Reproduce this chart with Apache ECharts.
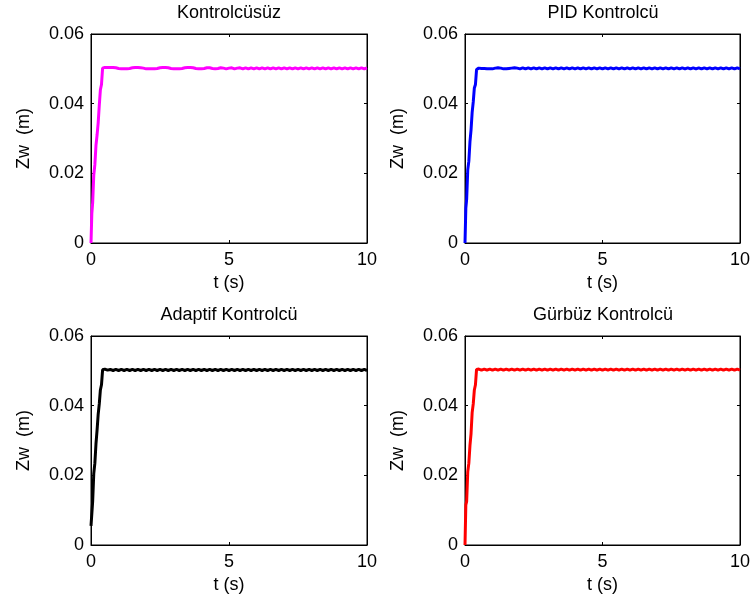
<!DOCTYPE html>
<html>
<head>
<meta charset="utf-8">
<script src="https://cdn.jsdelivr.net/npm/echarts@6/dist/echarts.min.js"></script>
<style>
  html, body { margin: 0; padding: 0; background: #fff; }
  #chart { width: 753px; height: 606px; }
</style>
</head>
<body>
<div id="chart"></div>
<script>
// Sample times (s): fast sampling through the rise, then every 0.1 s
const timeS = [
  0, 0.03, 0.06, 0.1, 0.14, 0.18, 0.22, 0.26, 0.3, 0.34, 0.38, 0.42, 0.46,
  0.5, 0.6, 0.7, 0.8, 0.9, 1.0, 1.1, 1.2, 1.3, 1.4, 1.5, 1.6, 1.7, 1.8, 1.9,
  2.0, 2.1, 2.2, 2.3, 2.4, 2.5, 2.6, 2.7, 2.8, 2.9, 3.0, 3.1, 3.2, 3.3, 3.4,
  3.5, 3.6, 3.7, 3.8, 3.9, 4.0, 4.1, 4.2, 4.3, 4.4, 4.5, 4.6, 4.7, 4.8, 4.9,
  5.0, 5.1, 5.2, 5.3, 5.4, 5.5, 5.6, 5.7, 5.8, 5.9, 6.0, 6.1, 6.2, 6.3, 6.4,
  6.5, 6.6, 6.7, 6.8, 6.9, 7.0, 7.1, 7.2, 7.3, 7.4, 7.5, 7.6, 7.7, 7.8, 7.9,
  8.0, 8.1, 8.2, 8.3, 8.4, 8.5, 8.6, 8.7, 8.8, 8.9, 9.0, 9.1, 9.2, 9.3, 9.4,
  9.5, 9.6, 9.7, 9.8, 9.9, 10.0
];

// Zw (m) without a controller
const zwKontrolcusuz = [
  0, 0.0085, 0.0115, 0.0195, 0.0225, 0.028, 0.031, 0.0345, 0.0395, 0.044, 0.0455, 0.0502, 0.0504,
  0.0504, 0.0504, 0.0504, 0.0504, 0.0503, 0.0501, 0.0500, 0.0500, 0.0500, 0.0501, 0.0503, 0.0504, 0.0504, 0.0503, 0.0502,
  0.0500, 0.0500, 0.0500, 0.0500, 0.0501, 0.0503, 0.0504, 0.0504, 0.0503, 0.0501, 0.0500, 0.0500, 0.0500, 0.0501, 0.0503,
  0.0504, 0.0504, 0.0503, 0.0501, 0.0500, 0.0500, 0.0501, 0.0503, 0.0503, 0.0501, 0.0500, 0.0501, 0.0503, 0.0502, 0.0500,
  0.0502, 0.0503, 0.0500, 0.0502, 0.0503, 0.0500, 0.0503, 0.0500, 0.0503, 0.0500, 0.0503, 0.0500, 0.0503, 0.0500, 0.0503,
  0.0500, 0.0503, 0.0500, 0.0503, 0.0500, 0.0503, 0.0500, 0.0503, 0.0500, 0.0503, 0.0500, 0.0503, 0.0500, 0.0503, 0.0500,
  0.0503, 0.0500, 0.0503, 0.0500, 0.0503, 0.0500, 0.0503, 0.0500, 0.0503, 0.0500, 0.0503, 0.0500, 0.0503, 0.0500, 0.0503,
  0.0500, 0.0503, 0.0500, 0.0503, 0.0500, 0.0503
];

// Zw (m) with the PID controller
const zwPid = [
  0, 0.0100, 0.0125, 0.021, 0.0235, 0.029, 0.0325, 0.0375, 0.0405, 0.0445, 0.0455, 0.0498, 0.0502,
  0.0502, 0.0501, 0.0501, 0.0500, 0.0500, 0.0500, 0.0502, 0.0503, 0.0502, 0.0500, 0.0500, 0.0501, 0.0502, 0.0503, 0.0502,
  0.0500, 0.0503, 0.0500, 0.0503, 0.0500, 0.0503, 0.0500, 0.0503, 0.0500, 0.0503, 0.0500, 0.0503, 0.0500, 0.0503, 0.0500,
  0.0503, 0.0500, 0.0503, 0.0500, 0.0503, 0.0500, 0.0503, 0.0500, 0.0503, 0.0500, 0.0503, 0.0500, 0.0503, 0.0500, 0.0503,
  0.0500, 0.0503, 0.0500, 0.0503, 0.0500, 0.0503, 0.0500, 0.0503, 0.0500, 0.0503, 0.0500, 0.0503, 0.0500, 0.0503, 0.0500,
  0.0503, 0.0500, 0.0503, 0.0500, 0.0503, 0.0500, 0.0503, 0.0500, 0.0503, 0.0500, 0.0503, 0.0500, 0.0503, 0.0500, 0.0503,
  0.0500, 0.0503, 0.0500, 0.0503, 0.0500, 0.0503, 0.0500, 0.0503, 0.0500, 0.0503, 0.0500, 0.0503, 0.0500, 0.0503, 0.0500,
  0.0503, 0.0500, 0.0503, 0.0500, 0.0503, 0.0500
];

// Zw (m) with the adaptive controller
const zwAdaptif = [
  0.0055, 0.009, 0.0125, 0.0205, 0.0235, 0.029, 0.033, 0.0375, 0.0405, 0.0445, 0.046, 0.0503, 0.0505,
  0.0505, 0.0502, 0.0504, 0.0501, 0.0504, 0.0501, 0.0504, 0.0501, 0.0504, 0.0501, 0.0504, 0.0501, 0.0504, 0.0501, 0.0504,
  0.0501, 0.0504, 0.0501, 0.0504, 0.0501, 0.0504, 0.0501, 0.0504, 0.0501, 0.0504, 0.0501, 0.0504, 0.0501, 0.0504, 0.0501,
  0.0504, 0.0501, 0.0504, 0.0501, 0.0504, 0.0501, 0.0504, 0.0501, 0.0504, 0.0501, 0.0504, 0.0501, 0.0504, 0.0501, 0.0504,
  0.0501, 0.0504, 0.0501, 0.0504, 0.0501, 0.0504, 0.0501, 0.0504, 0.0501, 0.0504, 0.0501, 0.0504, 0.0501, 0.0504, 0.0501,
  0.0504, 0.0501, 0.0504, 0.0501, 0.0504, 0.0501, 0.0504, 0.0501, 0.0504, 0.0501, 0.0504, 0.0501, 0.0504, 0.0501, 0.0504,
  0.0501, 0.0504, 0.0501, 0.0504, 0.0501, 0.0504, 0.0501, 0.0504, 0.0501, 0.0504, 0.0501, 0.0504, 0.0501, 0.0504, 0.0501,
  0.0504, 0.0501, 0.0504, 0.0501, 0.0504, 0.0501
];

// Zw (m) with the robust controller
const zwGurbuz = [
  0, 0.0115, 0.0125, 0.021, 0.0235, 0.0285, 0.032, 0.038, 0.0405, 0.0445, 0.046, 0.0504, 0.0505,
  0.0505, 0.0502, 0.0505, 0.0502, 0.0505, 0.0502, 0.0505, 0.0502, 0.0505, 0.0502, 0.0505, 0.0502, 0.0505, 0.0502, 0.0505,
  0.0502, 0.0505, 0.0502, 0.0505, 0.0502, 0.0505, 0.0502, 0.0505, 0.0502, 0.0505, 0.0502, 0.0505, 0.0502, 0.0505, 0.0502,
  0.0505, 0.0502, 0.0505, 0.0502, 0.0505, 0.0502, 0.0505, 0.0502, 0.0505, 0.0502, 0.0505, 0.0502, 0.0505, 0.0502, 0.0505,
  0.0502, 0.0505, 0.0502, 0.0505, 0.0502, 0.0505, 0.0502, 0.0505, 0.0502, 0.0505, 0.0502, 0.0505, 0.0502, 0.0505, 0.0502,
  0.0505, 0.0502, 0.0505, 0.0502, 0.0505, 0.0502, 0.0505, 0.0502, 0.0505, 0.0502, 0.0505, 0.0502, 0.0505, 0.0502, 0.0505,
  0.0502, 0.0505, 0.0502, 0.0505, 0.0502, 0.0505, 0.0502, 0.0505, 0.0502, 0.0505, 0.0502, 0.0505, 0.0502, 0.0505, 0.0502,
  0.0505, 0.0502, 0.0505, 0.0502, 0.0505, 0.0502
];

const panelTitles = ['Kontrolcüsüz', 'PID Kontrolcü', 'Adaptif Kontrolcü', 'Gürbüz Kontrolcü'];
const panelSeries = [zwKontrolcusuz, zwPid, zwAdaptif, zwGurbuz];
const panelColors = ['#ff00ff', '#0000ff', '#000000', '#ff0000'];

// Axis ranges and tick steps
const xRange = [0, 10];
const xStep = 5;
const yRange = [0, 0.06];
const yStep = 0.02;
const xAxisName = 't (s)';
const yAxisName = 'Zw  (m)';

const FONT = 'Liberation Sans, Arial, Helvetica, sans-serif';

// Panel boxes in pixels: [left, top, width, height]
const boxes = [
  [91, 34, 276, 209],
  [465, 34, 276, 209],
  [91, 336, 276, 209],
  [465, 336, 276, 209]
];

const grid = [], xAxis = [], yAxis = [], series = [], graphic = [];

boxes.forEach((b, i) => {
  grid.push({
    left: b[0], top: b[1], width: b[2], height: b[3],
    show: true, borderColor: '#000', borderWidth: 1, backgroundColor: 'transparent'
  });
  const tickStyle = { show: true, inside: true, length: 3, lineStyle: { color: '#000', width: 1 } };
  // bottom x axis with labels and name
  xAxis.push({
    type: 'value', gridIndex: i, position: 'bottom',
    min: xRange[0], max: xRange[1], interval: xStep,
    axisLine: { show: true, onZero: false, lineStyle: { color: '#000', width: 1 } },
    axisTick: tickStyle, splitLine: { show: false },
    axisLabel: { color: '#000', fontFamily: FONT, fontSize: 18, margin: 8 },
    name: xAxisName, nameLocation: 'middle', nameGap: 31,
    nameTextStyle: { color: '#000', fontFamily: FONT, fontSize: 18 }
  });
  // top x axis: ticks only
  xAxis.push({
    type: 'value', gridIndex: i, position: 'top',
    min: xRange[0], max: xRange[1], interval: xStep,
    axisLine: { show: true, onZero: false, lineStyle: { color: '#000', width: 1 } },
    axisTick: tickStyle, splitLine: { show: false }, axisLabel: { show: false }
  });
  // left y axis with labels and name
  yAxis.push({
    type: 'value', gridIndex: i, position: 'left',
    min: yRange[0], max: yRange[1], interval: yStep,
    axisLine: { show: true, onZero: false, lineStyle: { color: '#000', width: 1 } },
    axisTick: tickStyle, splitLine: { show: false },
    axisLabel: {
      color: '#000', fontFamily: FONT, fontSize: 18, margin: 7,
      formatter: v => (v === 0 ? '0' : v.toFixed(2))
    },
    name: yAxisName, nameLocation: 'middle', nameGap: 58, nameRotate: 90,
    nameTextStyle: { color: '#000', fontFamily: FONT, fontSize: 18 }
  });
  // right y axis: ticks only
  yAxis.push({
    type: 'value', gridIndex: i, position: 'right',
    min: yRange[0], max: yRange[1], interval: yStep,
    axisLine: { show: true, onZero: false, lineStyle: { color: '#000', width: 1 } },
    axisTick: tickStyle, splitLine: { show: false }, axisLabel: { show: false }
  });
  series.push({
    type: 'line', xAxisIndex: i * 2, yAxisIndex: i * 2,
    data: timeS.map((t, k) => [t, panelSeries[i][k]]),
    showSymbol: false, symbol: 'none', smooth: false,
    lineStyle: { color: panelColors[i], width: 3 },
    itemStyle: { color: panelColors[i] },
    clip: true, animation: false
  });
  graphic.push({
    type: 'text', x: b[0] + b[2] / 2, y: b[1] - 21,
    style: {
      text: panelTitles[i], fill: '#000', font: '18px ' + FONT,
      textAlign: 'center', textVerticalAlign: 'middle'
    }
  });
});

const chart = echarts.init(document.getElementById('chart'), null, { renderer: 'canvas' });
chart.setOption({
  backgroundColor: '#fff',
  animation: false,
  grid, xAxis, yAxis, series, graphic
});
</script>
</body>
</html>
